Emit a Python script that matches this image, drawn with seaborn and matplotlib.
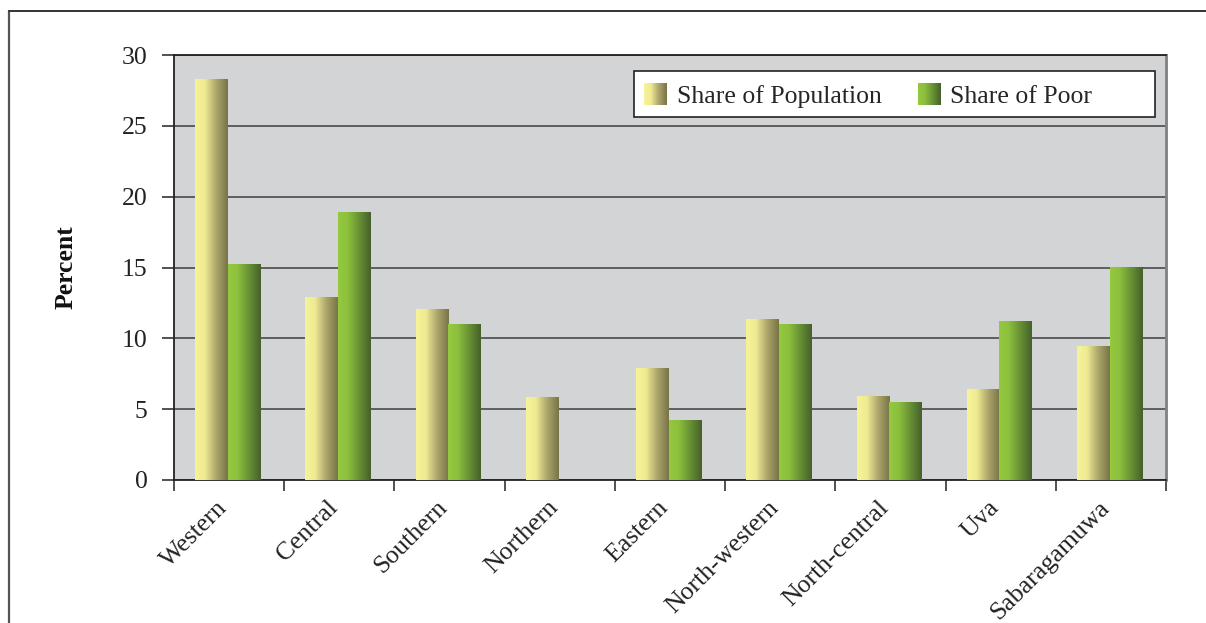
import numpy as np
import pandas as pd
import matplotlib
matplotlib.use("Agg")
import matplotlib.pyplot as plt
import seaborn as sns
from matplotlib.colors import LinearSegmentedColormap
from matplotlib.legend_handler import HandlerBase
from matplotlib.image import BboxImage
from matplotlib.transforms import Bbox, TransformedBbox, ScaledTranslation
from matplotlib.patches import Patch, Rectangle
from matplotlib.lines import Line2D

# Provincial shares (%)
provinces = ["Western", "Central", "Southern", "Northern", "Eastern",
             "North-western", "North-central", "Uva", "Sabaragamuwa"]
share_population = [28.3, 12.9, 12.0, 5.8, 7.9, 11.3, 5.9, 6.4, 9.4]
share_poor = [15.2, 18.9, 11.0, np.nan, 4.2, 11.0, 5.5, 11.2, 15.0]
series_names = ["Share of Population", "Share of Poor"]
y_ticks = [0, 5, 10, 15, 20, 25, 30]

df = pd.DataFrame({
    "Province": provinces * 2,
    "Series": [series_names[0]] * len(provinces) + [series_names[1]] * len(provinces),
    "Percent": share_population + share_poor,
})

sns.set_theme(style="white")
plt.rcParams["font.family"] = ["Liberation Serif", "DejaVu Serif"]

cmap_pop = LinearSegmentedColormap.from_list(
    "pop", [(0.0, "#F7F398"), (0.3, "#EFEB92"), (0.62, "#B0AA6E"), (1.0, "#777346")])
cmap_poor = LinearSegmentedColormap.from_list(
    "poor", [(0.0, "#95C93F"), (0.3, "#8CBF3C"), (0.65, "#679034"), (1.0, "#45602A")])
grad = np.linspace(0, 1, 256)[np.newaxis, :]

fig = plt.figure(figsize=(12.06, 6.23), dpi=100)
fig.patch.set_facecolor("white")
ax = fig.add_axes([174 / 1206, 1 - 480 / 623, (1166 - 174) / 1206, (480 - 55) / 623])
ax.set_facecolor("#D3D4D6")

sns.barplot(data=df, x="Province", y="Percent", hue="Series",
            order=provinces, hue_order=series_names,
            palette=["#EFEB92", "#8CBF3C"], width=0.59, gap=0,
            errorbar=None, legend=False, ax=ax, zorder=3)

# Replace flat bar fills with horizontal gradients
bars = list(ax.patches)
n = len(provinces)
for i, p in enumerate(bars):
    h = p.get_height()
    cmap = cmap_pop if i < n else cmap_poor
    p.set_visible(False)
    if h is None or not np.isfinite(h) or h <= 0:
        continue
    x0 = p.get_x() - 0.012
    w = p.get_width()
    ax.imshow(grad, extent=[x0, x0 + w, 0, h], aspect="auto", cmap=cmap,
              interpolation="bicubic", zorder=3)

ax.set_xlim(-0.5, n - 0.5)
ax.set_ylim(0, 30)
ax.set_yticks(y_ticks)
ax.set_yticklabels([str(v) for v in y_ticks], fontsize=18.5, color="#222222")
ax.grid(axis="y", color="#555555", linewidth=1.3, zorder=1)
ax.set_axisbelow(True)

# Category labels centred, tick marks on the category boundaries
ax.set_xticks(range(n))
ax.set_xticklabels(provinces, rotation=45, ha="right", rotation_mode="anchor",
                   fontsize=18.5, color="#222222")
ax.set_xticks(np.arange(-0.5, n, 1.0), minor=True)
ax.tick_params(axis="x", which="major", length=0, pad=9, bottom=True)
ax.tick_params(axis="x", which="minor", length=8, width=1.2, color="#333333",
               direction="out", bottom=True)
ax.tick_params(axis="y", which="major", length=9, width=1.2, color="#333333",
               direction="out", pad=10, left=True)
shift = ScaledTranslation(-13 / 100, -4 / 100, fig.dpi_scale_trans)
for lbl in ax.get_xticklabels():
    lbl.set_transform(lbl.get_transform() + shift)
ax.set_xlabel("")
ax.set_ylabel("Percent", fontsize=18.5, fontweight="bold", color="#111111")
ax.yaxis.set_label_coords(-0.097, 0.5)

for side in ["left", "bottom", "top"]:
    ax.spines[side].set_visible(True)
    ax.spines[side].set_color("#222222")
    ax.spines[side].set_linewidth(1.3)
ax.spines["right"].set_visible(True)
ax.spines["right"].set_color("#808080")
ax.spines["right"].set_linewidth(2)


class GradientHandler(HandlerBase):
    def __init__(self, cmap):
        super().__init__()
        self.cmap = cmap

    def create_artists(self, legend, orig_handle, xdescent, ydescent,
                       width, height, fontsize, trans):
        bb = Bbox.from_bounds(-xdescent, -ydescent, width, height)
        img = BboxImage(TransformedBbox(bb, trans), cmap=self.cmap,
                        interpolation="bicubic")
        img.set_data(grad)
        return [img]


# Legend box drawn separately so it can be wider than its entries
leg_x0, leg_x1 = (634 - 174) / 992, (1155 - 174) / 992
leg_y0, leg_y1 = (480 - 117) / 425, (480 - 71) / 425
ax.add_patch(Rectangle((leg_x0, leg_y0), leg_x1 - leg_x0, leg_y1 - leg_y0,
                       transform=ax.transAxes, facecolor="white",
                       edgecolor="#222222", linewidth=1.2, zorder=5))

h_pop = Patch(label=series_names[0])
h_poor = Patch(label=series_names[1])
leg = ax.legend(handles=[h_pop, h_poor], ncol=2, loc="center left",
                bbox_to_anchor=(leg_x0, (leg_y0 + leg_y1) / 2 - 0.004), borderaxespad=0,
                fontsize=18.5, frameon=False,
                handlelength=0.86, handleheight=0.9,
                handletextpad=0.4, columnspacing=1.4, borderpad=0.4,
                handler_map={h_pop: GradientHandler(cmap_pop),
                             h_poor: GradientHandler(cmap_poor)})
leg.set_zorder(6)

# Outer frame (left and top edges)
fig.add_artist(Line2D([8.5 / 1206, 8.5 / 1206], [0, 1 - 11 / 623],
                      transform=fig.transFigure, color="#555555", linewidth=1.6))
fig.add_artist(Line2D([8.5 / 1206, 1], [1 - 11 / 623, 1 - 11 / 623],
                      transform=fig.transFigure, color="#333333", linewidth=1.4))

fig.savefig("out.png", dpi=100)
